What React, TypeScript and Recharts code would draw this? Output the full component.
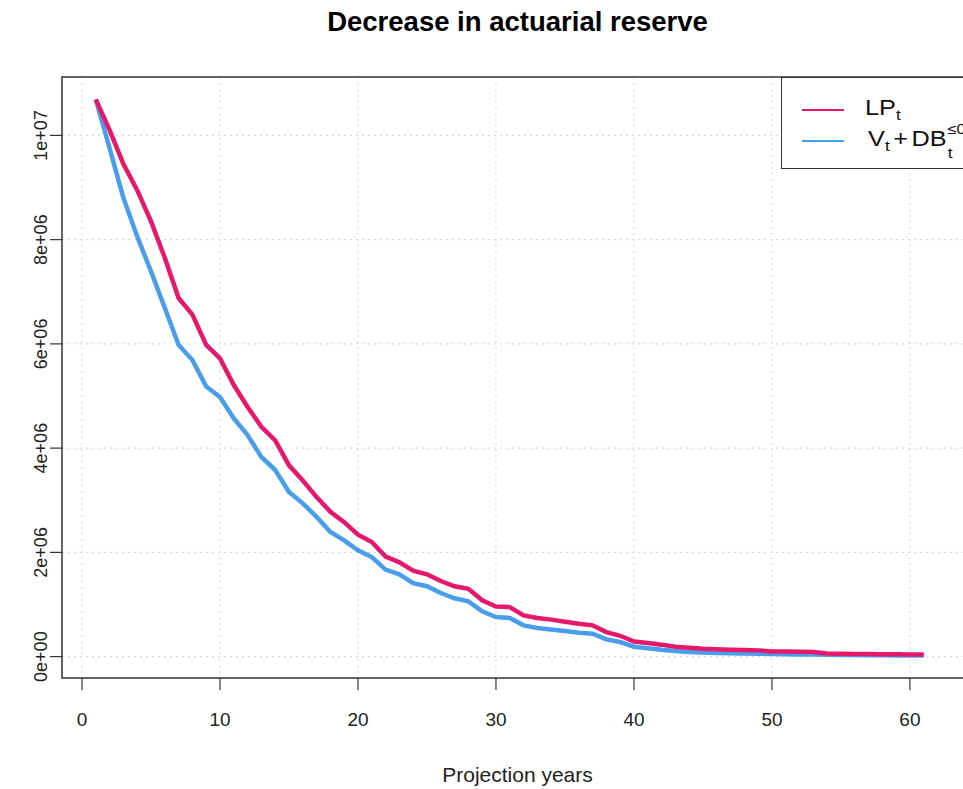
import React from "react";
import { LineChart, Line, XAxis, YAxis, CartesianGrid, ReferenceArea } from "recharts";

const years = Array.from({ length: 61 }, (_, i) => i + 1);

// values in millions
const lpValues = [
  10.69, 10.1, 9.45, 8.95, 8.35, 7.65, 6.88, 6.56, 5.98, 5.72,
  5.21, 4.79, 4.41, 4.15, 3.67, 3.38, 3.06, 2.78, 2.58, 2.34,
  2.2, 1.92, 1.81, 1.65, 1.58, 1.45, 1.35, 1.3, 1.08, 0.96,
  0.95, 0.79, 0.74, 0.71, 0.67, 0.63, 0.6, 0.47, 0.4, 0.29,
  0.26, 0.23, 0.19, 0.17, 0.15, 0.14, 0.13, 0.125, 0.12, 0.1,
  0.1, 0.095, 0.09, 0.06, 0.055, 0.05, 0.05, 0.045, 0.045, 0.04,
  0.04,
];
const vdbValues = [
  10.69, 9.75, 8.8, 8.06, 7.39, 6.69, 5.98, 5.69, 5.18, 4.98,
  4.57, 4.25, 3.83, 3.58, 3.16, 2.94, 2.68, 2.39, 2.23, 2.04,
  1.91, 1.67, 1.58, 1.41, 1.35, 1.22, 1.12, 1.06, 0.87, 0.76,
  0.74, 0.6, 0.55, 0.52, 0.49, 0.46, 0.44, 0.33, 0.28, 0.19,
  0.16, 0.13, 0.11, 0.09, 0.08, 0.07, 0.065, 0.06, 0.055, 0.05,
  0.045, 0.04, 0.04, 0.035, 0.03, 0.03, 0.025, 0.025, 0.02, 0.02,
  0.02,
];

const xTicks = [0, 10, 20, 30, 40, 50, 60];
const yTicks = [0, 2e6, 4e6, 6e6, 8e6, 1e7];
const yTickLabels = ["0e+00", "2e+06", "4e+06", "6e+06", "8e+06", "1e+07"];

const X_DOMAIN: [number, number] = [-1.45, 64.57];
const Y_DOMAIN: [number, number] = [-0.41e6, 11.12e6];

const LP_COLOR = "#E6186C";
const VDB_COLOR = "#4A9DEB";
const FONT = "'Liberation Sans', Arial, sans-serif";

const data = years.map((t, i) => ({
  year: t,
  lp: lpValues[i] * 1e6,
  vdb: vdbValues[i] * 1e6,
}));

const XTick = (props: any) => {
  const { x, y, payload } = props;
  return (
    <text x={x} y={y} dy={36} textAnchor="middle" fontSize={19} fill="#222" fontFamily={FONT}>
      {payload.value}
    </text>
  );
};

const YTick = (props: any) => {
  const { x, y, payload } = props;
  const idx = yTicks.indexOf(payload.value);
  return (
    <text
      transform={`translate(${x},${y}) rotate(-90)`}
      textAnchor="middle"
      fontSize={18}
      fill="#222"
      fontFamily={FONT}
    >
      {yTickLabels[idx]}
    </text>
  );
};

const LegendBox = () => (
  <div
    style={{
      position: "absolute",
      left: 781,
      top: 77,
      border: "1.5px solid #333",
      background: "#fff",
      width: 200,
      height: 92,
      boxSizing: "border-box",
      fontFamily: FONT,
      fontSize: 22,
      color: "#111",
      zIndex: 3,
    }}
  >
    <div style={{ position: "absolute", left: 20, top: 31, width: 42, height: 1.5, background: LP_COLOR }} />
    <div style={{ position: "absolute", left: 20, top: 62, width: 42, height: 1.5, background: VDB_COLOR }} />
    <div
      style={{
        position: "absolute",
        left: 83,
        top: 19,
        whiteSpace: "nowrap",
        lineHeight: 1,
        transform: "scaleX(1.15)",
        transformOrigin: "left",
      }}
    >
      LP<sub style={{ fontSize: 15, verticalAlign: -5 }}>t</sub>
    </div>
    <div
      style={{
        position: "absolute",
        left: 86,
        top: 50,
        whiteSpace: "nowrap",
        lineHeight: 1,
        transform: "scaleX(1.15)",
        transformOrigin: "left",
      }}
    >
      V<sub style={{ fontSize: 15, verticalAlign: -5 }}>t</sub>
      <span style={{ margin: "0 3px" }}>+</span>DB
      <span style={{ position: "relative", display: "inline-block", width: 24, height: 10 }}>
        <span style={{ position: "absolute", left: 1, top: -14, fontSize: 14 }}>≤0</span>
        <span style={{ position: "absolute", left: 1, top: 9, fontSize: 15 }}>t</span>
      </span>
    </div>
  </div>
);

export default function App() {
  return (
    <div
      style={{
        position: "absolute",
        left: 0,
        top: 0,
        width: 963,
        height: 789,
        overflow: "hidden",
        background: "#fff",
      }}
    >
      <div
        style={{
          position: "absolute",
          left: 62,
          width: 911,
          top: 5,
          textAlign: "center",
          fontFamily: FONT,
          fontWeight: "bold",
          fontSize: 27.5,
          lineHeight: 1.2,
          color: "#000",
          zIndex: 2,
        }}
      >
        Decrease in actuarial reserve
      </div>
      <LineChart
        width={1000}
        height={789}
        data={data}
        margin={{ top: 77, right: 27, bottom: 0, left: 2 }}
      >
        <CartesianGrid
          stroke="#d3d3d3"
          strokeDasharray="2 4"
          horizontalValues={yTicks}
          verticalValues={xTicks}
        />
        <XAxis
          type="number"
          dataKey="year"
          domain={X_DOMAIN}
          ticks={xTicks}
          allowDataOverflow
          axisLine={false}
          tickLine={{ stroke: "#333", strokeWidth: 1.2 }}
          tickSize={12}
          tickMargin={0}
          tick={<XTick />}
          height={111}
          label={{
            value: "Projection years",
            position: "insideBottom",
            offset: 7,
            fontSize: 21,
            fill: "#222",
            fontFamily: FONT,
          }}
        />
        <YAxis
          type="number"
          domain={Y_DOMAIN}
          ticks={yTicks}
          allowDataOverflow
          axisLine={false}
          tickLine={{ stroke: "#333", strokeWidth: 1.2 }}
          tickSize={12}
          tickMargin={3}
          tick={<YTick />}
          width={60}
        />
        <ReferenceArea
          x1={X_DOMAIN[0]}
          x2={X_DOMAIN[1]}
          y1={Y_DOMAIN[0]}
          y2={Y_DOMAIN[1]}
          fill="none"
          stroke="#333"
          strokeWidth={1.5}
          ifOverflow="visible"
        />
        <Line
          type="linear"
          dataKey="vdb"
          stroke={VDB_COLOR}
          strokeWidth={4.5}
          dot={false}
          isAnimationActive={false}
        />
        <Line
          type="linear"
          dataKey="lp"
          stroke={LP_COLOR}
          strokeWidth={4.5}
          dot={false}
          isAnimationActive={false}
        />
      </LineChart>
      <LegendBox />
    </div>
  );
}
